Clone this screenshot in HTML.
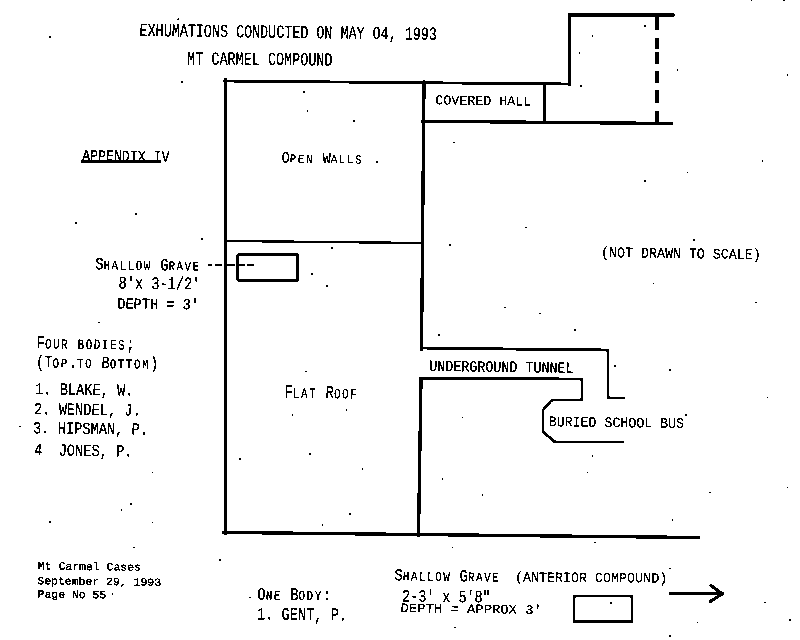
<!DOCTYPE html><html><head><meta charset="utf-8"><style>*{margin:0;padding:0}
html,body{width:800px;height:640px;background:#fff;overflow:hidden}
body{position:relative}
.t{position:absolute;white-space:pre;line-height:1;padding:4px;color:#000;transform-origin:50% 50%;font-family:"Liberation Mono",monospace}
s{text-decoration:none;font-size:0.78em;letter-spacing:0.15em}
svg{position:absolute;left:0;top:0}
</style></head><body>
<svg width="0" height="0" style="position:absolute"><filter id="bw" color-interpolation-filters="sRGB"><feColorMatrix type="saturate" values="0"/><feComponentTransfer><feFuncR type="discrete" tableValues="0 0 1"/><feFuncG type="discrete" tableValues="0 0 1"/><feFuncB type="discrete" tableValues="0 0 1"/></feComponentTransfer></filter></svg>
<div id="pg" style="position:absolute;left:0;top:0;width:800px;height:640px;background:#fff;filter:url(#bw)">
<svg width="800" height="640" fill="none" stroke="#000" stroke-linecap="square">
<path d="M569.5 84L569.5 15L673 15" stroke-width="2.8"/>
<path d="M224 81L570 84" stroke-width="2.5"/>
<path d="M225.5 80L225.5 533" stroke-width="3"/>
<path d="M224 532.5L698 537.5" stroke-width="3"/>
<path d="M424 82L421.5 349" stroke-width="3"/>
<path d="M225 241L422 243" stroke-width="2"/>
<path d="M423 121.3L671 123.5" stroke-width="3"/>
<path d="M544.5 84L544.5 121" stroke-width="2.5"/>
<path d="M657 16.6V29.7M657 38V49M657 52V64M657 71V83M657 90V103M657 111V122.5" stroke-width="3" stroke-linecap="butt"/>
<path d="M421 348L608 350L608 398L624 398" stroke-width="2.5"/>
<path d="M421 378.5L582 379L582 400L552 400L543 410L543 432L555 442L623 442" stroke-width="2.5"/>
<path d="M421 379L418.5 535" stroke-width="3"/>
<rect x="237.75" y="254.25" width="60" height="26.5" rx="2" stroke-width="2.6"/>
<path d="M208 265H212M215 265H222M227 265H235M238.5 265H245M247.5 265H253.5" stroke-width="1.5" stroke-linecap="butt"/>
<rect x="574" y="596" width="58" height="25.5" stroke-width="2.5"/>
<path d="M670 593.5H723" stroke-width="2.2"/>
<path d="M711 585.5L722 594L710.5 601.5" stroke-width="3"/>
<path d="M81 161.5H161" stroke-width="2" stroke-linecap="butt"/>
<path d="M49.2 36.3h1.6v1.4h-1.6zM177.6 18.5h1.6v1.4h-1.6zM181.2 81.3h1.6v1.4h-1.6zM303.2 91.3h1.6v1.4h-1.6zM306.7 110.3h1.6v1.4h-1.6zM353.2 120.3h1.6v1.4h-1.6zM135.2 213.3h1.6v1.4h-1.6zM75.2 222.3h1.6v1.4h-1.6zM201.2 238.3h1.6v1.4h-1.6zM331.2 247.3h1.6v1.4h-1.6zM311.2 273.3h1.6v1.4h-1.6zM326.2 285.3h1.6v1.4h-1.6zM376.2 161.3h1.6v1.4h-1.6zM644.2 25.3h1.6v1.4h-1.6zM591.7 35.3h1.6v1.4h-1.6zM578.7 52.3h1.6v1.4h-1.6zM676.7 69.3h1.6v1.4h-1.6zM786.7 74.3h1.6v1.4h-1.6zM580.2 85.3h1.6v1.4h-1.6zM453.2 141.8h1.6v1.4h-1.6zM761.7 160.3h1.6v1.4h-1.6zM686.7 171.8h1.6v1.4h-1.6zM644.2 180.3h1.6v1.4h-1.6zM525.2 226.8h1.6v1.4h-1.6zM449.2 244.3h1.6v1.4h-1.6zM693.2 239.3h1.6v1.4h-1.6zM652.7 282.8h1.6v1.4h-1.6zM755.2 301.8h1.6v1.4h-1.6zM504.2 306.8h1.6v1.4h-1.6zM539.2 312.8h1.6v1.4h-1.6zM438.2 334.3h1.6v1.4h-1.6zM574.2 329.3h1.6v1.4h-1.6zM614.2 365.3h1.6v1.4h-1.6zM669.2 369.3h1.6v1.4h-1.6zM766.7 396.8h1.6v1.4h-1.6zM461.7 416.8h1.6v1.4h-1.6zM591.7 455.3h1.6v1.4h-1.6zM586.7 471.8h1.6v1.4h-1.6zM441.7 478.3h1.6v1.4h-1.6zM481.7 494.3h1.6v1.4h-1.6zM709.2 491.8h1.6v1.4h-1.6zM786.7 486.8h1.6v1.4h-1.6zM671.7 519.3h1.6v1.4h-1.6zM594.2 541.8h1.6v1.4h-1.6zM451.7 546.8h1.6v1.4h-1.6zM669.2 567.8h1.6v1.4h-1.6zM696.7 621.8h1.6v1.4h-1.6zM669.2 635.3h1.6v1.4h-1.6zM764.2 601.8h1.6v1.4h-1.6zM789.2 619.3h1.6v1.4h-1.6zM454.2 626.8h1.6v1.4h-1.6zM610.2 602.3h1.6v1.4h-1.6zM98.2 321.8h1.6v1.4h-1.6zM19.2 425.8h1.6v1.4h-1.6zM151.7 471.8h1.6v1.4h-1.6zM130.2 503.3h1.6v1.4h-1.6zM120.7 509.3h1.6v1.4h-1.6zM49.2 521.3h1.6v1.4h-1.6zM151.7 521.8h1.6v1.4h-1.6zM133.2 546.8h1.6v1.4h-1.6zM219.2 559.3h1.6v1.4h-1.6zM249.2 596.8h1.6v1.4h-1.6zM305.2 370.8h1.6v1.4h-1.6zM345.7 409.3h1.6v1.4h-1.6zM291.7 414.3h1.6v1.4h-1.6zM239.2 458.3h1.6v1.4h-1.6zM309.2 453.3h1.6v1.4h-1.6zM361.7 468.3h1.6v1.4h-1.6zM349.2 513.3h1.6v1.4h-1.6zM321.7 524.3h1.6v1.4h-1.6zM111.7 593.3h1.6v1.4h-1.6zM750.7 -0.2h1.6v1.4h-1.6zM783.2 -0.2h1.6v1.4h-1.6zM685.2 414.3h1.6v1.4h-1.6z" fill="#000" stroke="none"/>
</svg>
<div class="t" style="left:77.50px;top:20.91px;font-size:18.58px;transform:rotate(0.75deg) scaleX(0.7209)">EXHUMATIONS CONDUCTED ON MAY O4, 1993</div>
<div class="t" style="left:155.50px;top:47.83px;font-size:18.49px;transform:rotate(0.40deg) scaleX(0.7284)">MT CARMEL COMPOUND</div>
<div class="t" style="left:69.50px;top:146.03px;font-size:15.71px;transform:rotate(0.75deg) scaleX(0.8411)">APPENDIX IV</div>
<div class="t" style="left:271.50px;top:147.73px;font-size:15.71px;transform:rotate(0.75deg) scaleX(0.8814)">O<s>PEN</s> W<s>ALLS</s></div>
<div class="t" style="left:430.50px;top:90.83px;font-size:13.42px;transform:rotate(0.75deg) scaleX(0.9925)">COVERED HALL</div>
<div class="t" style="left:589.28px;top:243.45px;font-size:14.67px;transform:rotate(0.75deg) scaleX(0.9073)">(NOT DRAWN TO SCALE)</div>
<div class="t" style="left:78.00px;top:253.06px;font-size:17.26px;transform:rotate(0.75deg) scaleX(0.7980)">S<s>HALLOW</s> G<s>RAVE</s></div>
<div class="t" style="left:101.62px;top:272.15px;font-size:17.84px;transform:rotate(0.75deg) scaleX(0.7636)">8'x 3-1/2'</div>
<div class="t" style="left:108.12px;top:294.39px;font-size:15.39px;transform:rotate(0.75deg) scaleX(0.8852)">DEPTH = 3'</div>
<div class="t" style="left:17.15px;top:330.55px;font-size:18.29px;transform:rotate(0.75deg) scaleX(0.7578)">F<s>OUR</s> <s>BODIES</s>;</div>
<div class="t" style="left:16.50px;top:350.63px;font-size:17.20px;transform:rotate(0.75deg) scaleX(0.8017)">(T<s>OP</s>.<s>TO</s> B<s>OTTOM</s>)</div>
<div class="t" style="left:19.00px;top:377.96px;font-size:17.04px;transform:rotate(0.75deg) scaleX(0.8026)">1. BLAKE, W.</div>
<div class="t" style="left:16.75px;top:398.14px;font-size:17.04px;transform:rotate(0.75deg) scaleX(0.8026)">2. WENDEL, J.</div>
<div class="t" style="left:15.12px;top:417.45px;font-size:17.04px;transform:rotate(0.75deg) scaleX(0.8026)">3. HIPSMAN, P.</div>
<div class="t" style="left:18.12px;top:439.11px;font-size:17.04px;transform:rotate(0.75deg) scaleX(0.8026)">4  JONES, P.</div>
<div class="t" style="left:268.75px;top:379.73px;font-size:18.25px;transform:rotate(0.75deg) scaleX(0.7615)">F<s>LAT</s> R<s>OOF</s></div>
<div class="t" style="left:411.50px;top:356.79px;font-size:15.82px;transform:rotate(0.75deg) scaleX(0.8439)">UNDERGROUND TUNNEL</div>
<div class="t" style="left:538.50px;top:411.93px;font-size:14.40px;transform:rotate(0.75deg) scaleX(0.9208)">BURIED SCHOOL BUS</div>
<div class="t" style="left:36.10px;top:557.79px;font-size:10.98px;-webkit-text-stroke:0.12px #000;transform:rotate(0.75deg) scaleX(1.0440)">Mt Carmel Cases</div>
<div class="t" style="left:35.50px;top:572.57px;font-size:10.98px;-webkit-text-stroke:0.12px #000;transform:rotate(0.75deg) scaleX(1.0440)">September 29, 1993</div>
<div class="t" style="left:35.40px;top:585.82px;font-size:10.98px;-webkit-text-stroke:0.12px #000;transform:rotate(0.75deg) scaleX(1.0440)">Page No 55</div>
<div class="t" style="left:243.25px;top:583.32px;font-size:17.75px;transform:rotate(0.75deg) scaleX(0.7805)">O<s>NE</s> B<s>ODY</s>:</div>
<div class="t" style="left:239.00px;top:602.83px;font-size:17.92px;transform:rotate(0.75deg) scaleX(0.7610)">1. GENT, P.</div>
<div class="t" style="left:379.40px;top:564.87px;font-size:16.85px;transform:rotate(0.75deg) scaleX(0.8202)">S<s>HALLOW</s> G<s>RAVE</s></div>
<div class="t" style="left:508.00px;top:567.64px;font-size:13.89px;transform:rotate(0.40deg) scaleX(0.9616)">(ANTERIOR COMPOUND)</div>
<div class="t" style="left:384.75px;top:584.61px;font-size:17.40px;transform:rotate(0.75deg) scaleX(0.7710)">2-3' x 5'8"</div>
<div class="t" style="left:400.50px;top:599.07px;font-size:12.99px;transform:rotate(0.75deg) scaleX(1.0675)">DEPTH = APPROX 3'</div>
</div>
</body></html>
